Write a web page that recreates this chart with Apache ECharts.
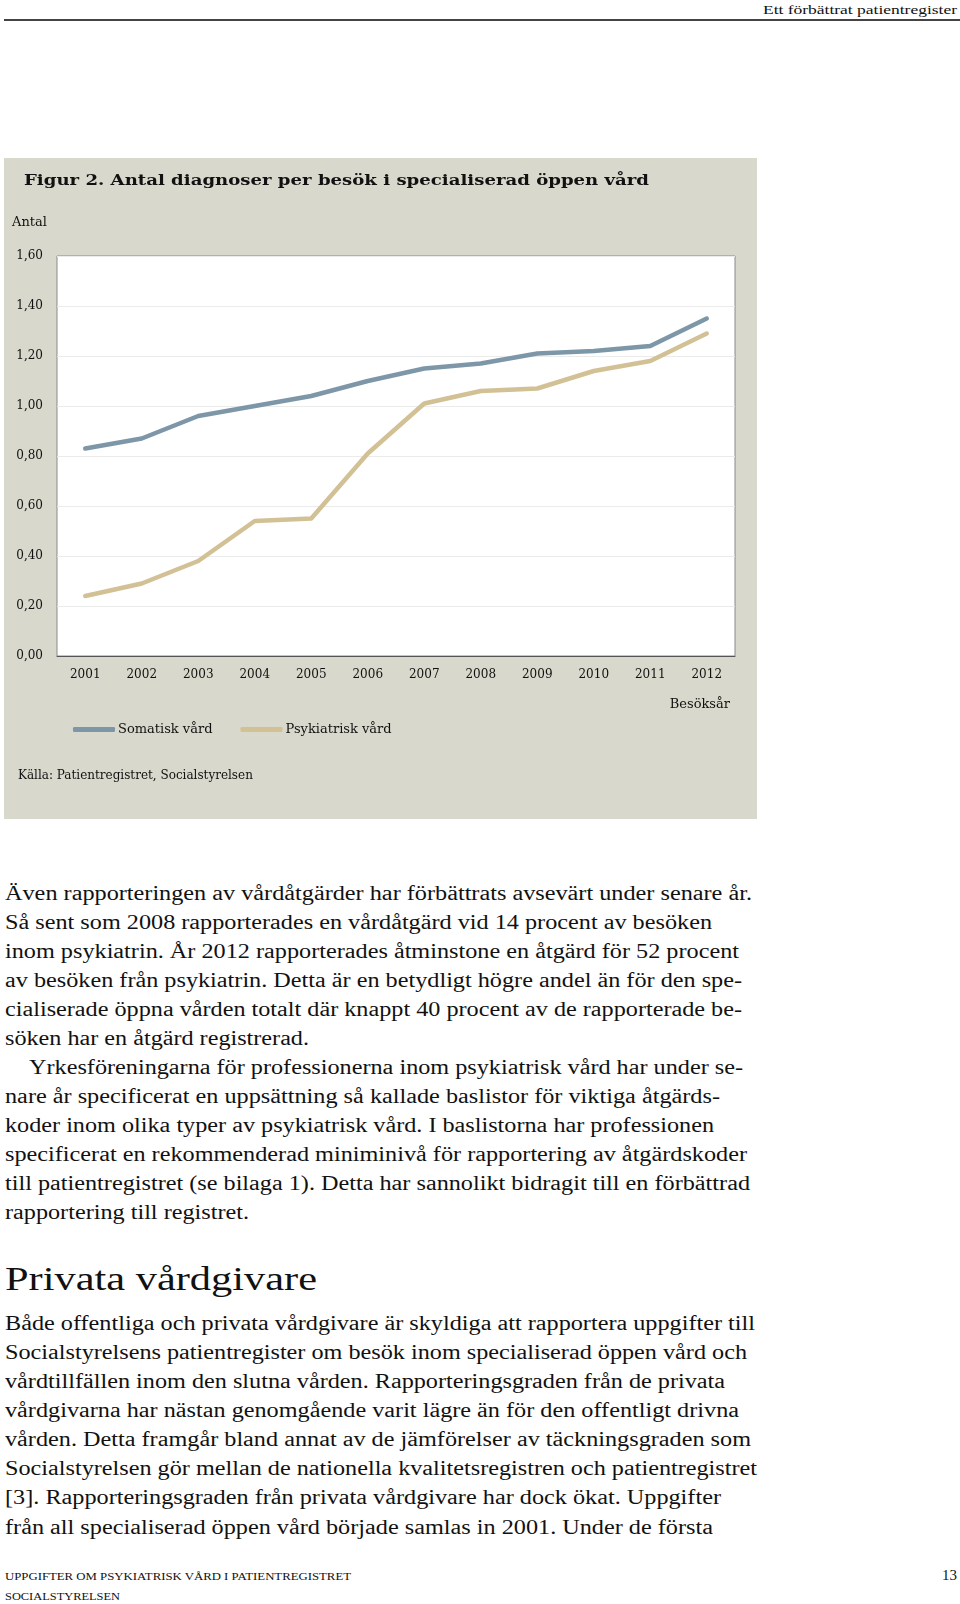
<!DOCTYPE html>
<html>
<head>
<meta charset="utf-8">
<script src="https://cdn.jsdelivr.net/npm/echarts@6/dist/echarts.min.js"></script>
<style>
  html, body { margin: 0; padding: 0; background: #ffffff; }
  body { width: 960px; height: 1604px; position: relative; overflow: hidden; }
  #chart { position: absolute; left: 4px; top: 158px; width: 753px; height: 661px; }
  .t { position: absolute; white-space: nowrap; line-height: 1; transform-origin: 0 0; color: #111; font-family: "Liberation Serif", "Times New Roman", serif; }
  #rule { position: absolute; left: 4px; top: 19px; width: 956px; height: 2px; background: #444; }
</style>
</head>
<body>
<div id="rule"></div>
<div id="chart"></div>
<script>
// ---- chart data ----
const years = ['2001','2002','2003','2004','2005','2006','2007','2008','2009','2010','2011','2012'];
const somatisk = [0.83, 0.87, 0.96, 1.00, 1.04, 1.10, 1.15, 1.17, 1.21, 1.22, 1.24, 1.35];
const psykiatrisk = [0.24, 0.29, 0.38, 0.54, 0.55, 0.81, 1.01, 1.06, 1.07, 1.14, 1.18, 1.29];
const yTicks = [0, 0.2, 0.4, 0.6, 0.8, 1.0, 1.2, 1.4, 1.6];
const seriesNames = ['Somatisk vård', 'Psykiatrisk vård'];
const titleText = 'Figur 2. Antal diagnoser per besök i specialiserad öppen vård';
const yName = 'Antal';
const xName = 'Besöksår';
const sourceText = 'Källa: Patientregistret, Socialstyrelsen';

// ---- page text ----
const headerText = 'Ett förbättrat patientregister';
const para1 = [
  'Även rapporteringen av vårdåtgärder har förbättrats avsevärt under senare år.',
  'Så sent som 2008 rapporterades en vårdåtgärd vid 14 procent av besöken',
  'inom psykiatrin. År 2012 rapporterades åtminstone en åtgärd för 52 procent',
  'av besöken från psykiatrin. Detta är en betydligt högre andel än för den spe-',
  'cialiserade öppna vården totalt där knappt 40 procent av de rapporterade be-',
  'söken har en åtgärd registrerad.',
  'Yrkesföreningarna för professionerna inom psykiatrisk vård har under se-',
  'nare år specificerat en uppsättning så kallade baslistor för viktiga åtgärds-',
  'koder inom olika typer av psykiatrisk vård. I baslistorna har professionen',
  'specificerat en rekommenderad miniminivå för rapportering av åtgärdskoder',
  'till patientregistret (se bilaga 1). Detta har sannolikt bidragit till en förbättrad',
  'rapportering till registret.'
];
const para1Right = [752, 712, 739, 742, 742, 309, 743, 720, 714, 747, 750, 249];
const heading = 'Privata vårdgivare';
const para2 = [
  'Både offentliga och privata vårdgivare är skyldiga att rapportera uppgifter till',
  'Socialstyrelsens patientregister om besök inom specialiserad öppen vård och',
  'vårdtillfällen inom den slutna vården. Rapporteringsgraden från de privata',
  'vårdgivarna har nästan genomgående varit lägre än för den offentligt drivna',
  'vården. Detta framgår bland annat av de jämförelser av täckningsgraden som',
  'Socialstyrelsen gör mellan de nationella kvalitetsregistren och patientregistret',
  '[3]. Rapporteringsgraden från privata vårdgivare har dock ökat. Uppgifter',
  'från all specialiserad öppen vård började samlas in 2001. Under de första'
];
const para2Right = [755, 747, 725, 739, 751, 757, 721, 713];
const footer1 = 'UPPGIFTER OM PSYKIATRISK VÅRD I PATIENTREGISTRET';
const footer2 = 'SOCIALSTYRELSEN';
const pageNo = '13';

function place(text, left, baseline, size, right) {
  const s = document.createElement('div');
  s.className = 't';
  s.textContent = text;
  s.style.fontSize = size + 'px';
  document.body.appendChild(s);
  s.style.top = (baseline - 0.8375 * size) + 'px';
  s.style.left = left + 'px';
  const w = s.getBoundingClientRect().width;
  if (right != null) {
    s.style.transform = 'scaleX(' + ((right - left) / w) + ')';
  }
  return s;
}

place(headerText, 763, 14.5, 12, 957);
para1.forEach((l, i) => {
  const left = i === 6 ? 29 : 5;
  place(l, left, 899.3 + i * 29.0, 20, para1Right[i]);
});
place(heading, 5, 1290, 34, 317);
para2.forEach((l, i) => {
  place(l, 5, 1330 + i * 29.04, 20, para2Right[i]);
});
place(footer1, 5, 1580.7, 11, 351);
place(footer2, 5, 1600.7, 11, 120);
place(pageNo, 942, 1580.7, 14, 957);

// ---- chart ----
const serif = '"DejaVu Serif", serif';
const ctx = document.createElement('canvas').getContext('2d');
function fitScale(text, font, target) {
  ctx.font = font;
  return target / ctx.measureText(text).width;
}
const chart = echarts.init(document.getElementById('chart'), null, { renderer: 'canvas' });
const titleFont = 'bold 15px "DejaVu Serif"';
chart.setOption({
  backgroundColor: '#D9D8CC',
  animation: false,
  grid: {
    left: 53, top: 98, right: 22, bottom: 163,
    show: true, backgroundColor: '#ffffff', borderColor: '#8a8a8a', borderWidth: 1
  },
  legend: {
    left: 64, top: 560,
    itemWidth: 42, itemHeight: 5, itemGap: 28,
    icon: 'roundRect',
    textStyle: { fontFamily: serif, fontSize: 13, color: '#111', padding: [0, 0, 0, -2] },
    data: seriesNames
  },
  xAxis: {
    type: 'category',
    data: years,
    boundaryGap: true,
    axisLine: { lineStyle: { color: '#555', width: 1 } },
    axisTick: { inside: true, length: 5, lineStyle: { color: '#555' } },
    axisLabel: { fontFamily: serif, fontSize: 12, color: '#111', margin: 13 }
  },
  yAxis: {
    type: 'value',
    min: yTicks[0], max: yTicks[yTicks.length - 1], interval: 0.2,
    axisLine: { show: false },
    axisTick: { show: false },
    splitLine: { lineStyle: { color: '#ebebeb', width: 1 } },
    axisLabel: {
      fontFamily: serif, fontSize: 12, color: '#111', margin: 14,
      formatter: v => v.toFixed(2).replace('.', ',')
    }
  },
  graphic: [
    { type: 'text', left: 20, top: 16, scaleX: fitScale(titleText, titleFont, 625),
      style: { text: titleText, font: titleFont, fill: '#111' } },
    { type: 'text', left: 8, top: 58, style: { text: yName, font: '13px "DejaVu Serif"', fill: '#111' } },
    { type: 'text', right: 27, top: 540, style: { text: xName, font: '13px "DejaVu Serif"', fill: '#111' } },
    { type: 'text', left: 14, top: 612, style: { text: sourceText, font: '12px "DejaVu Serif"', fill: '#111' } }
  ],
  series: [
    { name: seriesNames[0], type: 'line', data: somatisk, symbol: 'none',
      color: '#7D97A8', lineStyle: { width: 4.5, cap: 'round', join: 'round' } },
    { name: seriesNames[1], type: 'line', data: psykiatrisk, symbol: 'none',
      color: '#D3C196', lineStyle: { width: 4.5, cap: 'round', join: 'round' } }
  ]
});
</script>
</body>
</html>
